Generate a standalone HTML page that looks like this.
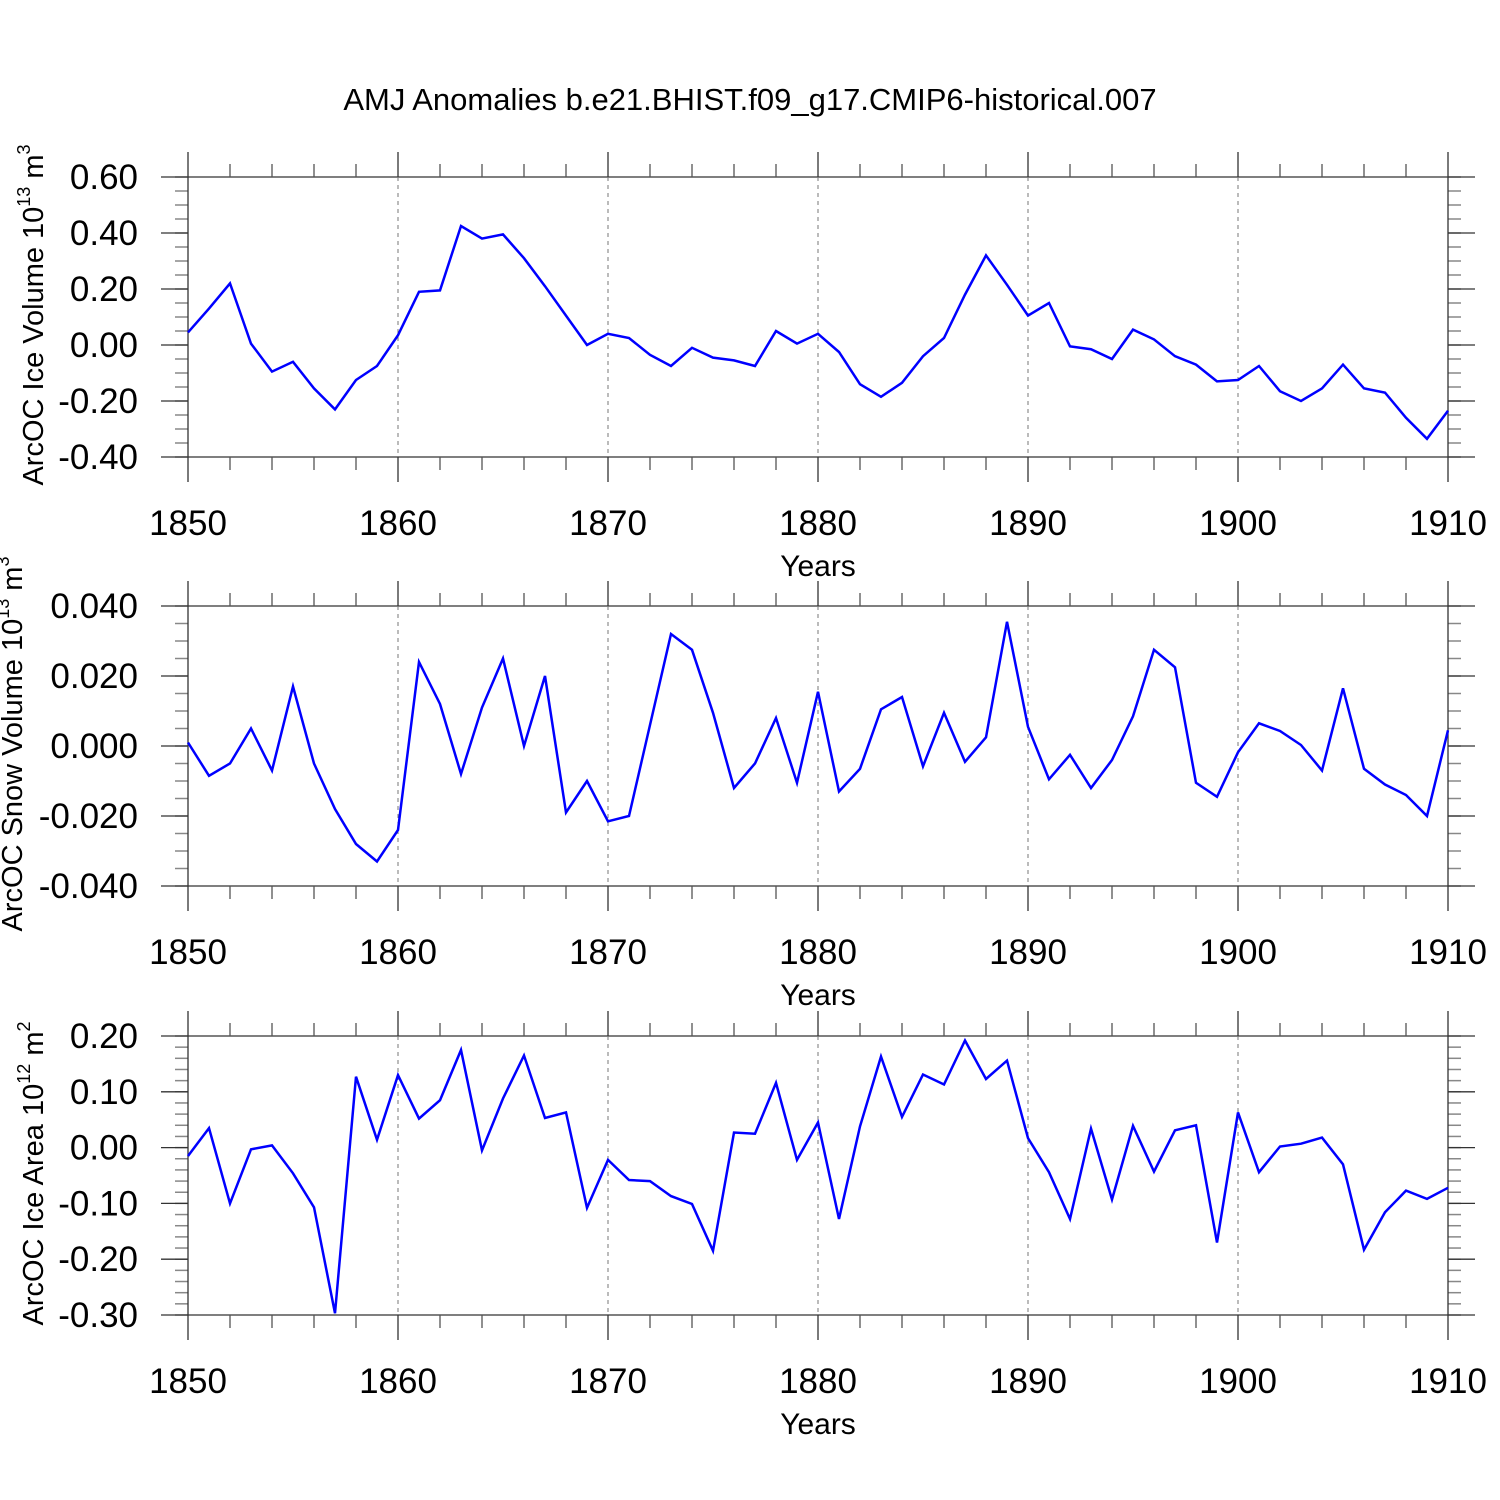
<!DOCTYPE html>
<html><head><meta charset="utf-8"><style>
html,body{margin:0;padding:0;background:#fff;}
svg{display:block;font-family:"Liberation Sans",sans-serif;}
</style></head><body>
<svg id="c" width="1500" height="1500" viewBox="0 0 1500 1500">
<text x="750" y="110" font-size="31" text-anchor="middle">AMJ Anomalies b.e21.BHIST.f09_g17.CMIP6-historical.007</text>
</svg>
<script>
const years = [];
for (let y = 1850; y <= 1910; y++) years.push(y);
const iceVolume = [0.045,0.13,0.22,0.005,-0.095,-0.06,-0.155,-0.23,-0.125,-0.075,0.035,0.19,0.195,0.425,0.38,0.395,0.31,0.21,0.105,0.0,0.04,0.025,-0.035,-0.075,-0.01,-0.045,-0.055,-0.075,0.05,0.005,0.04,-0.025,-0.14,-0.185,-0.135,-0.04,0.025,0.18,0.32,0.215,0.105,0.15,-0.005,-0.015,-0.05,0.055,0.02,-0.04,-0.07,-0.13,-0.125,-0.075,-0.165,-0.2,-0.155,-0.07,-0.155,-0.17,-0.26,-0.335,-0.235];
const snowVolume = [0.001,-0.0085,-0.005,0.005,-0.007,0.017,-0.005,-0.018,-0.028,-0.033,-0.024,0.024,0.012,-0.008,0.011,0.025,0.0,0.020,-0.019,-0.010,-0.0215,-0.020,0.006,0.032,0.0275,0.0095,-0.012,-0.005,0.008,-0.0105,0.0155,-0.013,-0.0065,0.0105,0.014,-0.0058,0.0095,-0.0045,0.0025,0.0355,0.0055,-0.0095,-0.0025,-0.012,-0.004,0.0085,0.0275,0.0225,-0.0105,-0.0145,-0.0018,0.0065,0.0043,0.0003,-0.007,0.0165,-0.0065,-0.011,-0.014,-0.020,0.0045];
const iceArea = [-0.015,0.035,-0.10,-0.003,0.004,-0.046,-0.107,-0.297,0.127,0.014,0.13,0.052,0.085,0.175,-0.005,0.088,0.165,0.053,0.063,-0.108,-0.022,-0.058,-0.06,-0.087,-0.101,-0.185,0.027,0.025,0.116,-0.022,0.045,-0.128,0.038,0.163,0.055,0.131,0.113,0.192,0.123,0.156,0.017,-0.044,-0.128,0.034,-0.093,0.039,-0.043,0.031,0.04,-0.17,0.063,-0.044,0.002,0.007,0.018,-0.03,-0.183,-0.116,-0.077,-0.092,-0.072];
const xTicks = [1850,1860,1870,1880,1890,1900,1910];
const ticks1 = [0.6,0.4,0.2,0.0,-0.2,-0.4];
const ticks2 = [0.04,0.02,0.0,-0.02,-0.04];
const ticks3 = [0.2,0.1,0.0,-0.1,-0.2,-0.3];

const svg = document.getElementById('c');
const NS = 'http://www.w3.org/2000/svg';
function mk(tag, attrs, parent) {
  const e = document.createElementNS(NS, tag);
  for (const k in attrs) e.setAttribute(k, attrs[k]);
  (parent || svg).appendChild(e);
  return e;
}
const X0 = 188, X1 = 1448;
const xs = y => X0 + (y - 1850) * (X1 - X0) / 60;

function panel(opts) {
  const {top, bot, ymax, ymin, data, ticks, dec, minor, title, sup, unit, name, tx} = opts;
  const g = mk('g', {});
  
  
  const ys = v => top + (ymax - v) * (bot - top) / (ymax - ymin);
  for (let v = ymin; v <= ymax + 1e-9; v += minor) {
    const y = ys(v);
    mk('line', {x1: 175, x2: X0, y1: y, y2: y, stroke: '#888', 'stroke-width': 1.5}, g);
    mk('line', {x1: X1, x2: 1461, y1: y, y2: y, stroke: '#888', 'stroke-width': 1.5}, g);
  }
  ticks.forEach(v => {
    const y = ys(v);
    const full = (Math.abs(v - ymax) < 1e-9 || Math.abs(v - ymin) < 1e-9);
    if (full) mk('line', {x1: 161, x2: 1475, y1: y, y2: y, stroke: '#333', 'stroke-width': 1.3}, g);
    else {
      mk('line', {x1: 161, x2: X0, y1: y, y2: y, stroke: '#333', 'stroke-width': 1.3}, g);
      mk('line', {x1: X1, x2: 1475, y1: y, y2: y, stroke: '#333', 'stroke-width': 1.3}, g);
    }
    const t = mk('text', {x: 138, y: y + 12, 'font-size': 35, 'text-anchor': 'end'}, g);
    t.textContent = v.toFixed(dec);
    
    
  });
  for (let yr = 1852; yr < 1910; yr += 2) {
    if (yr % 10 === 0) continue;
    const x = xs(yr);
    mk('line', {x1: x, x2: x, y1: top - 13, y2: top, stroke: '#555', 'stroke-width': 1.3}, g);
    mk('line', {x1: x, x2: x, y1: bot, y2: bot + 13, stroke: '#555', 'stroke-width': 1.3}, g);
  }
  xTicks.forEach(yr => {
    const x = xs(yr);
    if (yr === 1850 || yr === 1910) {
      mk('line', {x1: x, x2: x, y1: top - 25, y2: bot + 25, stroke: '#333', 'stroke-width': 1.3}, g);
    } else {
      mk('line', {x1: x, x2: x, y1: top - 25, y2: top, stroke: '#333', 'stroke-width': 1.3}, g);
      mk('line', {x1: x, x2: x, y1: bot, y2: bot + 25, stroke: '#333', 'stroke-width': 1.3}, g);
      mk('line', {x1: x, x2: x, y1: top, y2: bot, stroke: '#777', 'stroke-width': 1, 'stroke-dasharray': '4,4'}, g);
    }
    const t = mk('text', {x: x, y: bot + 78, 'font-size': 35, 'text-anchor': 'middle'}, g);
    t.textContent = yr;
    
    
  });
  const xt = mk('text', {x: 818, y: bot + 119, 'font-size': 30, 'text-anchor': 'middle'}, g);
  xt.textContent = 'Years';
  
  
  const cy = (top + bot) / 2 - 2;
  const yt = mk('text', {x: 0, y: 0, 'font-size': 29, 'text-anchor': 'middle', transform: `translate(${tx},${cy}) rotate(-90)`}, g);
  
  
  const s1 = mk('tspan', {}, yt); s1.textContent = title + ' 10';
  const s2 = mk('tspan', {'font-size': 18, dy: -13}, yt); s2.textContent = sup;
  const s3 = mk('tspan', {dy: 13}, yt); s3.textContent = ' m';
  const s4 = mk('tspan', {'font-size': 18, dy: -13}, yt); s4.textContent = unit;
  const pts = data.map((v, i) => xs(years[i]).toFixed(1) + ',' + ys(v).toFixed(1)).join(' ');
  const pl = mk('polyline', {points: pts, fill: 'none', stroke: '#0000ff', 'stroke-width': 2.5, 'stroke-linejoin': 'miter'}, g);
  
  
}
panel({top: 177, bot: 457, ymax: 0.6, ymin: -0.4, data: iceVolume, ticks: ticks1, dec: 2, minor: 0.05, title: 'ArcOC Ice Volume', sup: '13', unit: '3', name: 'ice-volume-panel', tx: 43});
panel({top: 606, bot: 886, ymax: 0.04, ymin: -0.04, data: snowVolume, ticks: ticks2, dec: 3, minor: 0.005, title: 'ArcOC Snow Volume', sup: '13', unit: '3', name: 'snow-volume-panel', tx: 22});
panel({top: 1036, bot: 1315, ymax: 0.2, ymin: -0.3, data: iceArea, ticks: ticks3, dec: 2, minor: 0.02, title: 'ArcOC Ice Area', sup: '12', unit: '2', name: 'ice-area-panel', tx: 43});
</script>
</body></html>
